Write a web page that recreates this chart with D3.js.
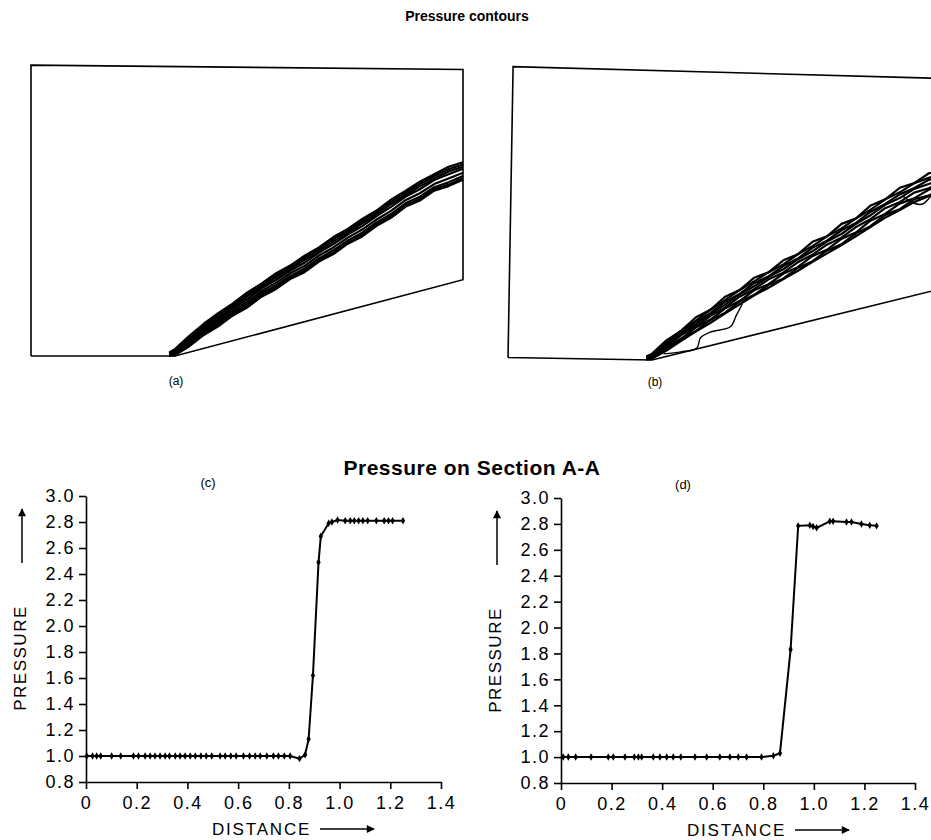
<!DOCTYPE html>
<html>
<head>
<meta charset="utf-8">
<script src="https://cdn.jsdelivr.net/npm/d3@7"></script>
<style>
  body { margin: 0; background: #fff; }
  svg { display: block; font-family: 'Liberation Sans', Arial, sans-serif; }
  .title { font-weight: bold; fill: #000; }
  .tick line, .domain { stroke: #000; stroke-width: 1.6; }
</style>
</head>
<body>
<div id="graph"></div>
<script>
// ---------- data ----------

// (c) pressure along section A-A
var distC = [0.003, 0.026, 0.042, 0.058, 0.101, 0.137, 0.187, 0.207, 0.233, 0.253, 0.272, 0.292,
  0.312, 0.329, 0.352, 0.371, 0.391, 0.411, 0.431, 0.453, 0.474, 0.496, 0.529, 0.549, 0.571,
  0.592, 0.621, 0.645, 0.667, 0.687, 0.713, 0.739, 0.759, 0.782, 0.805, 0.842, 0.864, 0.878,
  0.895, 0.917, 0.926, 0.957, 0.970, 0.992, 1.022, 1.042, 1.058, 1.075, 1.092, 1.111, 1.145,
  1.176, 1.193, 1.209, 1.250];
var pressC = [1.0, 1.0, 1.0, 1.0, 1.0, 1.0, 1.0, 1.0, 1.0, 1.0, 1.0, 1.0,
  1.0, 1.0, 1.0, 1.0, 1.0, 1.0, 1.0, 1.0, 1.0, 1.0, 1.0, 1.0, 1.0,
  1.0, 1.0, 1.0, 1.0, 1.0, 1.0, 1.0, 1.0, 1.0, 1.0, 0.98, 1.01, 1.13,
  1.62, 2.49, 2.69, 2.79, 2.80, 2.815, 2.81, 2.81, 2.81, 2.81, 2.81, 2.81, 2.81,
  2.81, 2.81, 2.81, 2.81];

// (d) pressure along section A-A
var distD = [0.009, 0.029, 0.058, 0.119, 0.187, 0.207, 0.253, 0.290, 0.306, 0.319, 0.365, 0.391,
  0.418, 0.444, 0.474, 0.530, 0.576, 0.628, 0.668, 0.701, 0.734, 0.793, 0.840, 0.866, 0.908,
  0.938, 0.984, 0.997, 1.011, 1.063, 1.076, 1.129, 1.149, 1.188, 1.221, 1.248];
var pressD = [1.0, 1.0, 1.0, 1.0, 1.0, 1.0, 1.0, 1.0, 1.0, 1.0, 1.0, 1.0,
  1.0, 1.0, 1.0, 1.0, 1.0, 1.0, 1.0, 1.0, 1.0, 1.0, 1.01, 1.03, 1.83,
  2.785, 2.79, 2.78, 2.77, 2.82, 2.82, 2.815, 2.815, 2.80, 2.79, 2.785];

var xTickVals = [0, 0.2, 0.4, 0.6, 0.8, 1.0, 1.2, 1.4];
var xTickLabels = ['0', '0.2', '0.4', '0.6', '0.8', '1.0', '1.2', '1.4'];
var yTickVals = [0.8, 1.0, 1.2, 1.4, 1.6, 1.8, 2.0, 2.2, 2.4, 2.6, 2.8, 3.0];
var yTickLabels = ['0.8', '1.0', '1.2', '1.4', '1.6', '1.8', '2.0', '2.2', '2.4', '2.6', '2.8', '3.0'];

// wedge (compression ramp) outline, in ramp-length units
var wallX = [-0.5, 0, 1.0, 1.0, -0.5, -0.5];
var wallY = [0, 0, 0.265, 0.995, 1.01, 0];

// shock position along the ramp; contour lines are bunched around it
var bandX = [-0.02, 0, 0.05, 0.1, 0.15, 0.2, 0.25, 0.3, 0.35, 0.4, 0.45, 0.5,
  0.55, 0.6, 0.65, 0.7, 0.75, 0.8, 0.85, 0.9, 0.95, 1.0];
var shockY = [0.004, 0.012, 0.05, 0.088, 0.123, 0.158, 0.192, 0.226, 0.258, 0.288, 0.318, 0.35,
  0.382, 0.413, 0.444, 0.476, 0.51, 0.543, 0.571, 0.6, 0.622, 0.64];

// (a) contour offsets from the shock line
var contourOffA = [
  [0.008, 0.012, 0.02, 0.024, 0.026, 0.024, 0.028, 0.025, 0.029, 0.026, 0.03, 0.027, 0.031, 0.028, 0.032, 0.029, 0.033, 0.03, 0.034, 0.031, 0.035, 0.033],
  [0.006, 0.008, 0.013, 0.017, 0.02, 0.017, 0.021, 0.018, 0.022, 0.019, 0.023, 0.02, 0.024, 0.021, 0.025, 0.022, 0.026, 0.023, 0.026, 0.024, 0.027, 0.025],
  [0.004, 0.005, 0.008, 0.01, 0.012, 0.011, 0.014, 0.012, 0.015, 0.013, 0.016, 0.013, 0.016, 0.014, 0.017, 0.015, 0.018, 0.015, 0.018, 0.016, 0.019, 0.017],
  [0.002, 0.002, 0.003, 0.005, 0.004, 0.007, 0.005, 0.008, 0.006, 0.008, 0.006, 0.009, 0.007, 0.009, 0.007, 0.01, 0.008, 0.01, 0.008, 0.011, 0.009, 0.01],
  [0.0, -0.001, -0.002, 0.0, -0.003, -0.001, -0.004, -0.001, -0.004, -0.001, -0.005, -0.001, -0.005, -0.002, -0.005, -0.002, -0.006, -0.002, -0.006, -0.003, -0.006, -0.004],
  [-0.001, -0.004, -0.007, -0.006, -0.01, -0.008, -0.012, -0.009, -0.013, -0.01, -0.014, -0.011, -0.015, -0.012, -0.016, -0.012, -0.017, -0.013, -0.018, -0.014, -0.019, -0.015],
  [-0.002, -0.007, -0.012, -0.011, -0.016, -0.013, -0.019, -0.015, -0.021, -0.016, -0.022, -0.017, -0.023, -0.018, -0.024, -0.019, -0.025, -0.02, -0.026, -0.021, -0.027, -0.023],
  [-0.003, -0.009, -0.016, -0.015, -0.02, -0.018, -0.024, -0.02, -0.026, -0.021, -0.027, -0.022, -0.028, -0.023, -0.029, -0.024, -0.03, -0.025, -0.031, -0.026, -0.032, -0.028]
];

// (b) contour offsets from the shock line
var contourOffB = [
  [0.008, 0.01, 0.02, 0.016, 0.028, 0.02, 0.032, 0.022, 0.034, 0.024, 0.036, 0.026, 0.038, 0.027, 0.04, 0.028, 0.04, 0.029, 0.042, 0.03, 0.043, 0.036],
  [0.006, 0.007, 0.012, 0.016, 0.016, 0.02, 0.02, 0.022, 0.021, 0.024, 0.022, 0.026, 0.023, 0.027, 0.024, 0.028, 0.025, 0.029, 0.026, 0.03, 0.027, 0.028],
  [0.004, 0.004, 0.008, 0.006, 0.012, 0.008, 0.014, 0.009, 0.015, 0.01, 0.016, 0.011, 0.017, 0.012, 0.018, 0.012, 0.018, 0.013, 0.019, 0.013, 0.02, 0.016],
  [0.002, 0.002, 0.002, 0.005, 0.003, 0.006, 0.004, 0.007, 0.004, 0.008, 0.005, 0.008, 0.005, 0.009, 0.005, 0.009, 0.006, 0.01, 0.006, 0.01, 0.006, 0.008],
  [0.0, -0.001, -0.004, 0.0, -0.005, -0.001, -0.006, -0.001, -0.006, -0.001, -0.007, -0.002, -0.007, -0.002, -0.008, -0.002, -0.008, -0.002, -0.008, -0.003, -0.009, -0.005],
  [-0.001, -0.003, -0.006, -0.012, -0.008, -0.014, -0.009, -0.016, -0.01, -0.018, -0.011, -0.019, -0.012, -0.02, -0.012, -0.021, -0.013, -0.022, -0.013, -0.023, -0.014, -0.018],
  [-0.002, -0.005, -0.014, -0.012, -0.02, -0.016, -0.024, -0.018, -0.026, -0.02, -0.028, -0.022, -0.03, -0.023, -0.031, -0.024, -0.032, -0.025, -0.033, -0.026, -0.034, -0.03],
  [-0.003, -0.007, -0.016, -0.02, -0.022, -0.026, -0.026, -0.028, -0.028, -0.03, -0.03, -0.032, -0.032, -0.033, -0.034, -0.034, -0.035, -0.035, -0.036, -0.036, -0.037, -0.036]
];

// (b) separate contour pieces below the shock
var extraB = [
  [[0.04, 0.022], [0.1, 0.03], [0.155, 0.044], [0.167, 0.08], [0.2, 0.1], [0.27, 0.12], [0.29, 0.16], [0.31, 0.2]],
  [[0.86, 0.585], [0.9, 0.56], [0.93, 0.558], [0.96, 0.59], [0.97, 0.615]]
];

// ---------- drawing ----------
var W = 931, H = 840;
var svg = d3.select('#graph').append('svg')
  .attr('width', W)
  .attr('height', H);

// arrow head for the axis arrows
svg.append('defs').append('marker')
  .attr('id', 'arrowhead')
  .attr('viewBox', '0 0 10 10')
  .attr('refX', 9).attr('refY', 5)
  .attr('markerWidth', 15).attr('markerHeight', 8)
  .attr('markerUnits', 'userSpaceOnUse')
  .attr('orient', 'auto')
  .append('path')
  .attr('d', 'M0,0 L10,5 L0,10 Z')
  .attr('fill', '#000');

svg.append('text')
  .attr('class', 'title')
  .attr('x', 467).attr('y', 21)
  .attr('text-anchor', 'middle')
  .style('font-size', '14px')
  .text('Pressure contours');

svg.append('text')
  .attr('class', 'title')
  .attr('x', 472).attr('y', 475)
  .attr('text-anchor', 'middle')
  .style('font-size', '21px')
  .style('letter-spacing', '0.5px')
  .text('Pressure on Section A-A');

function drawContourPanel(opts) {
  var x = d3.scaleLinear().domain([-0.5, 1.0]).range([opts.left, opts.left + 432]);
  var y = d3.scaleLinear().domain([0, 1]).range([opts.bottom, opts.bottom - 288]);

  var g = svg.append('g')
    .attr('transform', 'rotate(' + opts.rotate + ',' + x(0) + ',' + y(0) + ')');

  var line = d3.line()
    .x(function(d) { return x(d[0]); })
    .y(function(d) { return y(d[1]); });

  // wedge outline
  g.append('path')
    .datum(wallX.map(function(v, i) { return [v, wallY[i]]; }))
    .attr('d', line)
    .attr('fill', 'none')
    .attr('stroke', '#000')
    .attr('stroke-width', 1.6);

  // contour lines around the shock
  opts.offsets.forEach(function(off) {
    var pts = bandX.map(function(v, i) { return [v, shockY[i] + off[i]]; });
    g.append('path')
      .datum(pts)
      .attr('d', line)
      .attr('fill', 'none')
      .attr('stroke', '#000')
      .attr('stroke-width', 2.2)
      .attr('stroke-linejoin', 'round');
  });

  var smooth = d3.line()
    .x(function(d) { return x(d[0]); })
    .y(function(d) { return y(d[1]); })
    .curve(d3.curveCatmullRom);

  (opts.extra || []).forEach(function(pts) {
    g.append('path')
      .datum(pts)
      .attr('d', smooth)
      .attr('fill', 'none')
      .attr('stroke', '#000')
      .attr('stroke-width', 1.4);
  });

  svg.append('text')
    .attr('x', opts.labelX).attr('y', opts.labelY)
    .attr('text-anchor', 'middle')
    .style('font-size', '12px')
    .text(opts.label);
}

drawContourPanel({ left: 31, bottom: 356, rotate: 0, offsets: contourOffA,
  label: '(a)', labelX: 176, labelY: 385 });
drawContourPanel({ left: 508, bottom: 360, rotate: 1, offsets: contourOffB, extra: extraB,
  label: '(b)', labelX: 655, labelY: 386 });

function drawPressurePanel(opts) {
  var x = d3.scaleLinear().domain([0, 1.4]).range([opts.left, opts.left + opts.width]);
  var y = d3.scaleLinear().domain([0.8, 3.0]).range([opts.top + opts.height, opts.top]);
  var bottom = opts.top + opts.height;

  var xAxis = svg.append('g')
    .attr('transform', 'translate(0,' + bottom + ')')
    .call(d3.axisBottom(x)
      .tickValues(xTickVals)
      .tickFormat(function(d, i) { return xTickLabels[i]; })
      .tickSize(7).tickSizeOuter(0).tickPadding(7));

  var yAxis = svg.append('g')
    .attr('transform', 'translate(' + opts.left + ',0)')
    .call(d3.axisLeft(y)
      .tickValues(yTickVals)
      .tickFormat(function(d, i) { return yTickLabels[i]; })
      .tickSize(7).tickSizeOuter(0).tickPadding(4));

  // bigger, wider tick labels like the printed figure
  [xAxis, yAxis].forEach(function(a) {
    a.attr('font-family', null).attr('font-size', null);
    a.selectAll('text')
      .style('font-size', '18px')
      .style('letter-spacing', '1.5px')
      .attr('fill', '#000');
  });

  var data = opts.dist.map(function(d, i) { return { x: d, p: opts.press[i] }; });

  svg.append('path')
    .datum(data)
    .attr('d', d3.line()
      .x(function(d) { return x(d.x); })
      .y(function(d) { return y(d.p); }))
    .attr('fill', 'none')
    .attr('stroke', '#000')
    .attr('stroke-width', 2);

  svg.append('g').selectAll('path')
    .data(data)
    .enter().append('path')
    .attr('transform', function(d) { return 'translate(' + x(d.x) + ',' + y(d.p) + ')'; })
    .attr('d', d3.symbol(d3.symbolDiamond).size(16))
    .attr('fill', '#000');

  // axis titles with arrows
  svg.append('text')
    .attr('transform', 'translate(' + (opts.left - 60) + ',' + (opts.top + 162) + ') rotate(-90)')
    .attr('text-anchor', 'middle')
    .style('font-size', '17px')
    .style('letter-spacing', '1.5px')
    .text('PRESSURE');

  svg.append('line')
    .attr('x1', opts.left - 64).attr('x2', opts.left - 64)
    .attr('y1', opts.top + 67).attr('y2', opts.top + 13)
    .attr('stroke', '#000').attr('stroke-width', 1.5)
    .attr('marker-end', 'url(#arrowhead)');

  svg.append('text')
    .attr('x', opts.left + 126).attr('y', bottom + 53)
    .style('font-size', '17px')
    .style('letter-spacing', '1.8px')
    .text('DISTANCE');

  svg.append('line')
    .attr('x1', opts.left + 234).attr('x2', opts.left + 288)
    .attr('y1', bottom + 47).attr('y2', bottom + 47)
    .attr('stroke', '#000').attr('stroke-width', 1.5)
    .attr('marker-end', 'url(#arrowhead)');

  svg.append('text')
    .attr('x', opts.left + 122).attr('y', opts.top - 9)
    .attr('text-anchor', 'middle')
    .style('font-size', '13px')
    .text(opts.label);
}

drawPressurePanel({ left: 86, top: 496, width: 355, height: 286, dist: distC, press: pressC, label: '(c)' });
drawPressurePanel({ left: 561, top: 498, width: 354, height: 285, dist: distD, press: pressD, label: '(d)' });
</script>
</body>
</html>
